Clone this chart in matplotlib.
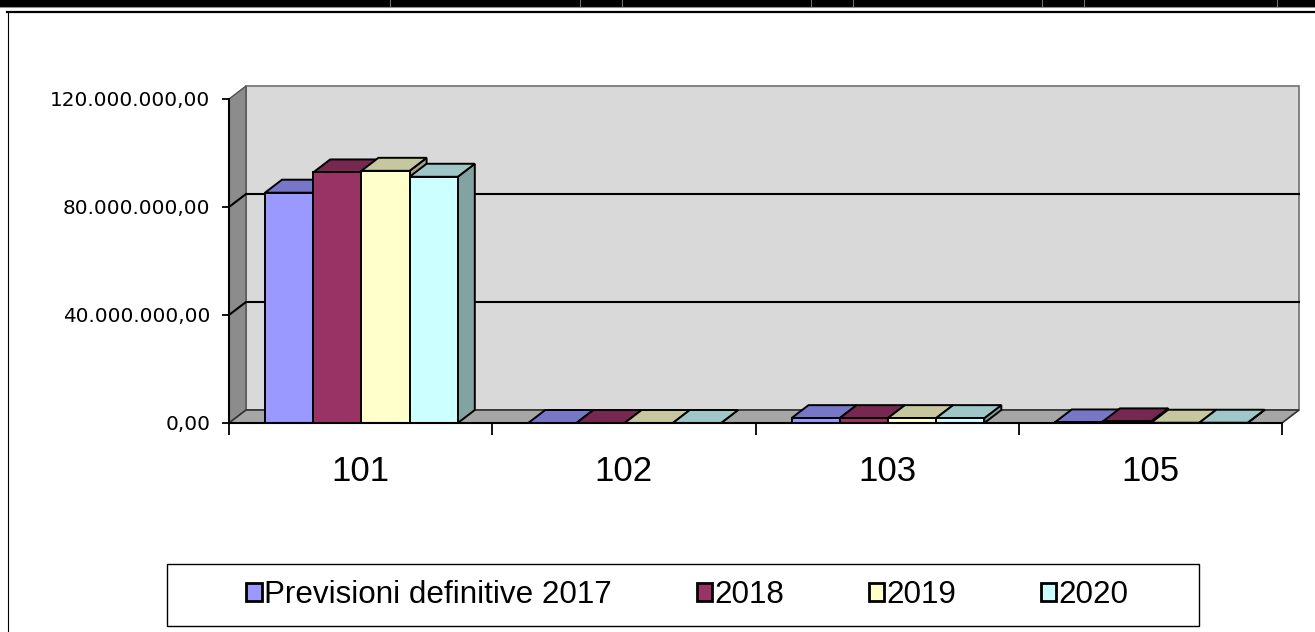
import matplotlib.pyplot as plt
from matplotlib.patches import Polygon, Rectangle, Patch
from matplotlib.ticker import FuncFormatter

categories = ['101', '102', '103', '105']
series = ['Previsioni definitive 2017', '2018', '2019', '2020']
prev_2017 = [85300000, 0, 1800000, 200000]
val_2018 = [92800000, 0, 1800000, 600000]
val_2019 = [93400000, 0, 1800000, 100000]
val_2020 = [91200000, 0, 1800000, 100000]
colors = ['#9999FF', '#993366', '#FFFFCC', '#CCFFFF']
y_ticks = [0, 40000000, 80000000, 120000000]

values = [prev_2017, val_2018, val_2019, val_2020]

W, H = 1315, 632


def fx(x):
    return x / W


def fy(y):
    return 1 - y / H


def shade(c, k):
    r, g, b = plt.matplotlib.colors.to_rgb(c)
    return (r * k, g * k, b * k)


def it_fmt(v, pos=None):
    s = f'{v:,.2f}'
    return s.replace(',', 'X').replace('.', ',').replace('X', '.')


fig = plt.figure(figsize=(W / 100, H / 100), dpi=100)

# spreadsheet strip and chart area border
fig.add_artist(Rectangle((0, fy(6.5)), 1, 6.5 / H, transform=fig.transFigure,
                         fc='black', ec='none'))
for xs in [390, 580, 622, 811, 853, 1042, 1084, 1277]:
    fig.add_artist(plt.Line2D([fx(xs), fx(xs)], [fy(0), fy(6.5)],
                              transform=fig.transFigure, color='#707070', lw=0.8))
fig.add_artist(plt.Line2D([0, 1], [fy(7), fy(7)], transform=fig.transFigure,
                          color='#909090', lw=0.8))
fig.add_artist(plt.Line2D([fx(7), 1], [fy(11.5), fy(11.5)], transform=fig.transFigure,
                          color='black', lw=1.6))
fig.add_artist(plt.Line2D([fx(7.5), fx(7.5)], [fy(11.5), 0], transform=fig.transFigure,
                          color='black', lw=0.8))

ax = fig.add_axes([fx(229), fy(423), fx(1282) - fx(229), (423 - 99) / H])
ymax = y_ticks[-1]
n = len(categories)
ax.set_xlim(0, n)
ax.set_ylim(0, ymax)
ax.patch.set_visible(False)
for s in ['top', 'right']:
    ax.spines[s].set_visible(False)
ax.spines['left'].set_linewidth(1.5)
ax.spines['bottom'].set_linewidth(1.5)
ax.spines['left'].set_zorder(10)
ax.spines['bottom'].set_zorder(10)

# depth of the 3d box, in data units
cat_px = (1282 - 229) / n
DX = 17 / cat_px
DY = 13 / (423 - 99) * ymax

back = Polygon([(DX, DY), (n + DX, DY), (n + DX, ymax + DY), (DX, ymax + DY)],
               closed=True, fc='#d9d9d9', ec='#707070', lw=1.2, clip_on=False, zorder=0.2)
ax.add_patch(back)
side = Polygon([(0, 0), (DX, DY), (DX, ymax + DY), (0, ymax)],
               closed=True, fc='#8c8c8c', ec='#505050', lw=1.0, clip_on=False, zorder=0.3)
ax.add_patch(side)
floor = Polygon([(0, 0), (n, 0), (n + DX, DY), (DX, DY)],
                closed=True, fc='#a6a6a6', ec='#303030', lw=1.2, clip_on=False, zorder=0.4)
ax.add_patch(floor)

for v in y_ticks[1:-1]:
    ax.plot([0, DX, n + DX], [v, v + DY, v + DY], color='black', lw=1.5,
            clip_on=False, zorder=0.5)

gap = 36 / cat_px
bw = 48.2 / cat_px
for i in range(n):
    for j, vals in enumerate(values):
        h = vals[i]
        x0 = i + gap + j * bw
        z = 2 + (i * 4 + j) * 0.01
        top = Polygon([(x0, h), (x0 + bw, h), (x0 + bw + DX, h + DY), (x0 + DX, h + DY)],
                      closed=True, fc=shade(colors[j], 0.78), ec='black', lw=1.4,
                      clip_on=False, zorder=z)
        rside = Polygon([(x0 + bw, 0), (x0 + bw + DX, DY), (x0 + bw + DX, h + DY), (x0 + bw, h)],
                        closed=True, fc=shade(colors[j], 0.64), ec='black', lw=1.4,
                        clip_on=False, zorder=z)
        ax.add_patch(rside)
        ax.add_patch(top)
        ax.bar(x0, h, width=bw, align='edge', color=colors[j], edgecolor='black',
               lw=1.4, zorder=z + 0.005, clip_on=False)

ax.set_yticks(y_ticks)
ax.yaxis.set_major_formatter(FuncFormatter(it_fmt))
ax.tick_params(axis='y', direction='out', length=5, width=1.3, pad=8.5,
               labelsize=14.4, labelcolor='black')
for t in ax.get_yticklabels():
    t.set_fontfamily('DejaVu Sans')

ax.set_xticks(range(n + 1))
ax.set_xticklabels([])
ax.tick_params(axis='x', which='major', direction='out', length=8.6, width=1.3)
ax.set_xticks([i + 0.5 for i in range(n)], minor=True)
ax.set_xticklabels(categories, minor=True, fontsize=25, family='Liberation Sans')
ax.tick_params(axis='x', which='minor', length=0, pad=23)

handles = [Patch(fc=c, ec='black', lw=2) for c in colors]
fig.legend(handles, series, loc='center', bbox_to_anchor=(fx(687.5), fy(595)), ncol=4,
           frameon=False, prop={'family': 'Liberation Sans', 'size': 22.6},
           handlelength=0.48, handleheight=0.48, handletextpad=0.08, columnspacing=2.7)
fig.add_artist(Rectangle((fx(167), fy(626)), fx(1199) - fx(167), (626 - 564) / H,
                         transform=fig.transFigure, fill=False, ec='black', lw=1))

fig.savefig('out.png', dpi=100)
